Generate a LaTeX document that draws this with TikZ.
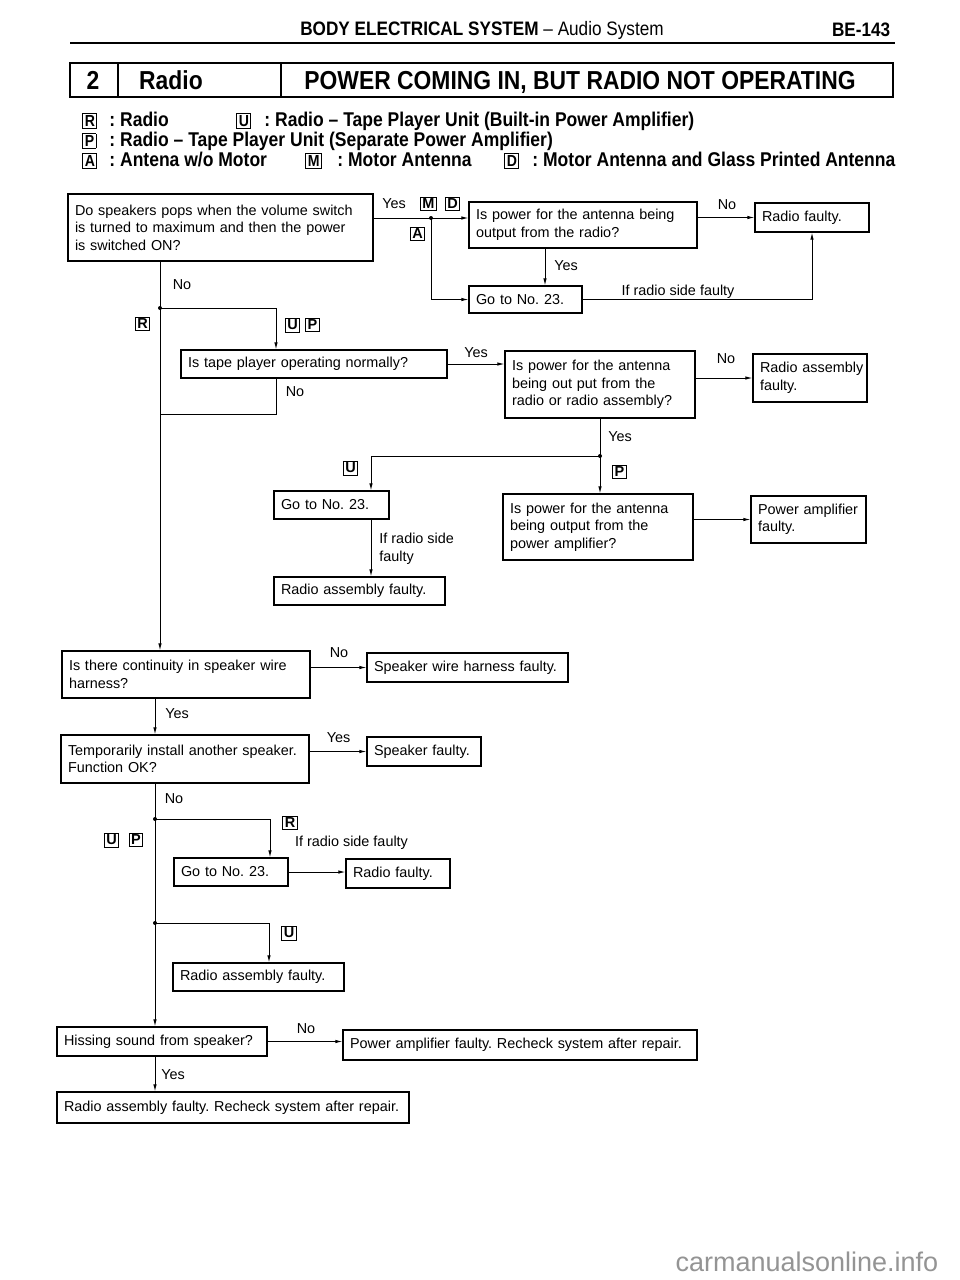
\documentclass[tikz,border=0pt]{standalone}
\usepackage{fontspec}
\setmainfont{Liberation Sans}
\newfontfamily\condfont[FakeStretch=0.88]{Liberation Sans}
\usetikzlibrary{arrows.meta}
\newcommand{\lbox}[2][14.5]{{\setlength{\fboxsep}{1.5pt}\setlength{\fboxrule}{0.8pt}\fbox{\fontsize{#1}{#1}\selectfont\bfseries #2}}}
\frenchspacing
\hyphenpenalty=10000
\exhyphenpenalty=10000

\begin{document}
\begin{tikzpicture}[x=1pt,y=-1pt,
  font=\fontsize{14.4}{17.5}\selectfont, line width=0.9pt,
  box/.style={draw, line width=1.1pt, inner xsep=7pt, inner ysep=0pt, align=left},
  lbl/.style={inner sep=0pt},
  arr/.style={-{Latex[length=7pt,width=3.4pt]}},
  leg/.style={anchor=base west, inner sep=0pt, font=\condfont\fontsize{19.9}{20}\selectfont\bfseries}]
\fill[white] (0,0) rectangle (960,1280);
\useasboundingbox (0,0) rectangle (960,1280);

% page head
\node[anchor=base] (head) at (482,35) {\condfont\fontsize{19.5}{20}\selectfont\bfseries BODY ELECTRICAL SYSTEM \mdseries\textendash{} Audio System};
\node[anchor=base east] (page) at (894,36) {\condfont\fontsize{19.5}{20}\selectfont\bfseries BE-143};
\draw[line width=2pt] (70,43) -- (895,43);

% title bar
\draw[line width=1.3pt] (70,63) rectangle (893,97);
\draw[line width=1.3pt] (118,63) -- (118,97);
\draw[line width=1.3pt] (281,63) -- (281,97);
\node[anchor=base] (tno) at (93,89) {\condfont\fontsize{26}{26}\selectfont\bfseries 2};
\node[anchor=base] (tsys) at (171,89) {\condfont\fontsize{26}{26}\selectfont\bfseries Radio};
\node[anchor=base] (ttitle) at (580,89) {\condfont\fontsize{26}{26}\selectfont\bfseries POWER COMING IN, BUT RADIO NOT OPERATING};

% legend
\node[leg] (lgR) at (82,126.5) {\lbox[16]{R}};
\node[leg] (lgRt) at (109,126.5) {: Radio};
\node[leg] (lgU) at (236,126.5) {\lbox[16]{U}};
\node[leg] (lgUt) at (264,126.5) {: Radio \textendash{} Tape Player Unit (Built-in Power Amplifier)};
\node[leg] (lgP) at (82,146.5) {\lbox[16]{P}};
\node[leg] (lgPt) at (109,146.5) {: Radio \textendash{} Tape Player Unit (Separate Power Amplifier)};
\node[leg] (lgA) at (82,166.5) {\lbox[16]{A}};
\node[leg] (lgAt) at (109,166.5) {: Antena w/o Motor};
\node[leg] (lgM) at (305,166.5) {\lbox[16]{M}};
\node[leg] (lgMt) at (337,166.5) {: Motor Antenna};
\node[leg] (lgD) at (504,166.5) {\lbox[16]{D}};
\node[leg] (lgDt) at (532,166.5) {: Motor Antenna and Glass Printed Antenna};

% boxes
\node[box, text width=291pt, minimum height=67pt] (q1) at (220.5,227.5) {Do speakers pops when the volume switch\\is turned to maximum and then the power\\is switched ON?};
\node[box, text width=214pt, minimum height=46pt] (q2) at (583,225) {Is power for the antenna being\\output from the radio?};
\node[box, text width=100pt, minimum height=29pt] (rf1) at (812,217.5) {Radio faulty.};
\node[box, text width=99pt, minimum height=27pt] (go1) at (525.5,299.5) {Go to No. 23.};
\node[box, text width=252pt, minimum height=28pt] (q3) at (314,364) {Is tape player operating normally?};
\node[box, text width=176pt, minimum height=67pt] (q5) at (600,384.5) {Is power for the antenna\\being out put from the\\radio or radio assembly?};
\node[box, text width=100pt, minimum height=48pt] (ra1) at (810,378) {Radio~assembly\\faulty.};
\node[box, text width=101pt, minimum height=28pt] (go2) at (331.5,505) {Go to No. 23.};
\node[box, text width=176pt, minimum height=66pt] (q6) at (598,527) {Is power for the antenna\\being output from the\\power amplifier?};
\node[box, text width=101pt, minimum height=47pt] (pa1) at (808.5,519.5) {Power~amplifier\\faulty.};
\node[box, text width=157pt, minimum height=28pt] (ra2) at (359.5,591) {Radio assembly faulty.};
\node[box, text width=234pt, minimum height=47pt] (q4) at (186,674.5) {Is there continuity in speaker wire\\harness?};
\node[box, text width=187pt, minimum height=29pt] (sw) at (467.5,667.5) {Speaker wire harness faulty.};
\node[box, text width=234pt, minimum height=48pt] (q7) at (185,759) {Temporarily install another speaker.\\Function OK?};
\node[box, text width=100pt, minimum height=29pt] (sf) at (424,751.5) {Speaker~faulty.};
\node[box, text width=100pt, minimum height=28pt] (go3) at (231,872) {Go to No. 23.};
\node[box, text width=90pt, minimum height=29pt] (rf2) at (398,873.5) {Radio faulty.};
\node[box, text width=157pt, minimum height=28pt] (ra3) at (258.5,977) {Radio assembly faulty.};
\node[box, text width=196pt, minimum height=29pt] (hs) at (162,1041.5) {Hissing sound from speaker?};
\node[box, text width=340pt, minimum height=30pt] (pa2) at (520,1045) {Power amplifier faulty. Recheck system after repair.};
\node[box, text width=338pt, minimum height=31pt] (ra4) at (233,1107.5) {Radio assembly faulty. Recheck system after repair.};

% junctions and bends
\coordinate (j1) at (431,218);
\coordinate (c2) at ([xshift=19.5pt]go1.north);
\coordinate (j2) at (160,308);
\coordinate (k3) at (276,308);
\coordinate (k4) at (276,414);
\coordinate (j3) at (600,456);
\coordinate (k5) at (371,456);
\coordinate (j4) at (155,819);
\coordinate (k6) at (270,819);
\coordinate (j5) at (155,923);
\coordinate (k7) at (269,923);

% connectors
\draw (q1.east |- j1) -- (j1);
\draw[arr] (j1) -- (j1 -| q2.west);
\draw[arr] (j1) |- (go1.west);
\draw[arr] (q2.east |- rf1.west) -- (rf1.west);
\draw[arr] (q2.south -| c2) -- (c2);
\draw[arr] (go1.east) -| (rf1.south);
\draw[arr] (q1.south -| j2) -- (q4.north -| j2);
\draw[arr] (j2) -- (k3) -- (k3 |- q3.north);
\draw (q3.south -| k3) -- (k4) -- (k4 -| j2);
\draw[arr] (q3.east) -- (q3.east -| q5.west);
\draw[arr] (q5.east |- ra1.west) -- (ra1.west);
\draw[arr] (q5.south) -- (q5.south |- q6.north);
\draw[arr] (j3) -- (k5) -- (k5 |- go2.north);
\draw[arr] (q6.east |- pa1.west) -- (pa1.west);
\draw[arr] (go2.south -| k5) -- (ra2.north -| k5);
\draw[arr] (q4.east |- sw.west) -- (sw.west);
\draw[arr] (q4.south -| j4) -- (q7.north -| j4);
\draw[arr] (q7.east |- sf.west) -- (sf.west);
\draw[arr] (q7.south -| j4) -- (hs.north -| j4);
\draw[arr] (j4) -- (k6) -- (k6 |- go3.north);
\draw[arr] (go3.east) -- (go3.east -| rf2.west);
\draw[arr] (j5) -- (k7) -- (k7 |- ra3.north);
\draw[arr] (hs.east) -- (hs.east -| pa2.west);
\draw[arr] (hs.south -| j4) -- (ra4.north -| j4);
\foreach \j in {j1,j2,j3,j4,j5} \fill (\j) circle (2pt);

% labels
\node[lbl] (y1) at (394,204) {Yes};
\node[lbl] (bM) at (428.5,204) {\lbox{M}};
\node[lbl] (bD) at (452.5,204) {\lbox{D}};
\node[lbl] (bA) at (417.5,234) {\lbox{A}};
\node[lbl] (n2) at (727,205) {No};
\node[lbl] (y2) at (566,266) {Yes};
\node[lbl] (f1) at (678,292) {If radio side faulty};
\node[lbl] (n1) at (182,285) {No};
\node[lbl] (bR1) at (142.5,324) {\lbox{R}};
\node[lbl] (bU1) at (292.5,325) {\lbox{U}};
\node[lbl] (bP1) at (312.5,325) {\lbox{P}};
\node[lbl] (n3) at (295,392) {No};
\node[lbl] (y3) at (476,353) {Yes};
\node[lbl] (n5) at (726,359) {No};
\node[lbl] (y5) at (620,437) {Yes};
\node[lbl] (bP2) at (619.5,472) {\lbox{P}};
\node[lbl] (bU2) at (350.5,468) {\lbox{U}};
\node[lbl, anchor=west, align=left] (f2) at (379,549) {If radio side\\faulty};
\node[lbl] (n4) at (339,653) {No};
\node[lbl] (y4) at (177,714) {Yes};
\node[lbl] (y7) at (338.5,738) {Yes};
\node[lbl] (n7) at (174,799) {No};
\node[lbl] (bR2) at (290,823) {\lbox{R}};
\node[lbl] (f3) at (351.5,843) {If radio side faulty};
\node[lbl] (bU3) at (111.5,840) {\lbox{U}};
\node[lbl] (bP3) at (136,840) {\lbox{P}};
\node[lbl] (bU4) at (289,933) {\lbox{U}};
\node[lbl] (n8) at (306,1029) {No};
\node[lbl] (y8) at (173,1075) {Yes};

% watermark
\node[anchor=east, text=black!42] (wm) at (942,1262) {\fontsize{27}{27}\selectfont carmanualsonline.info};
\end{tikzpicture}
\end{document}
